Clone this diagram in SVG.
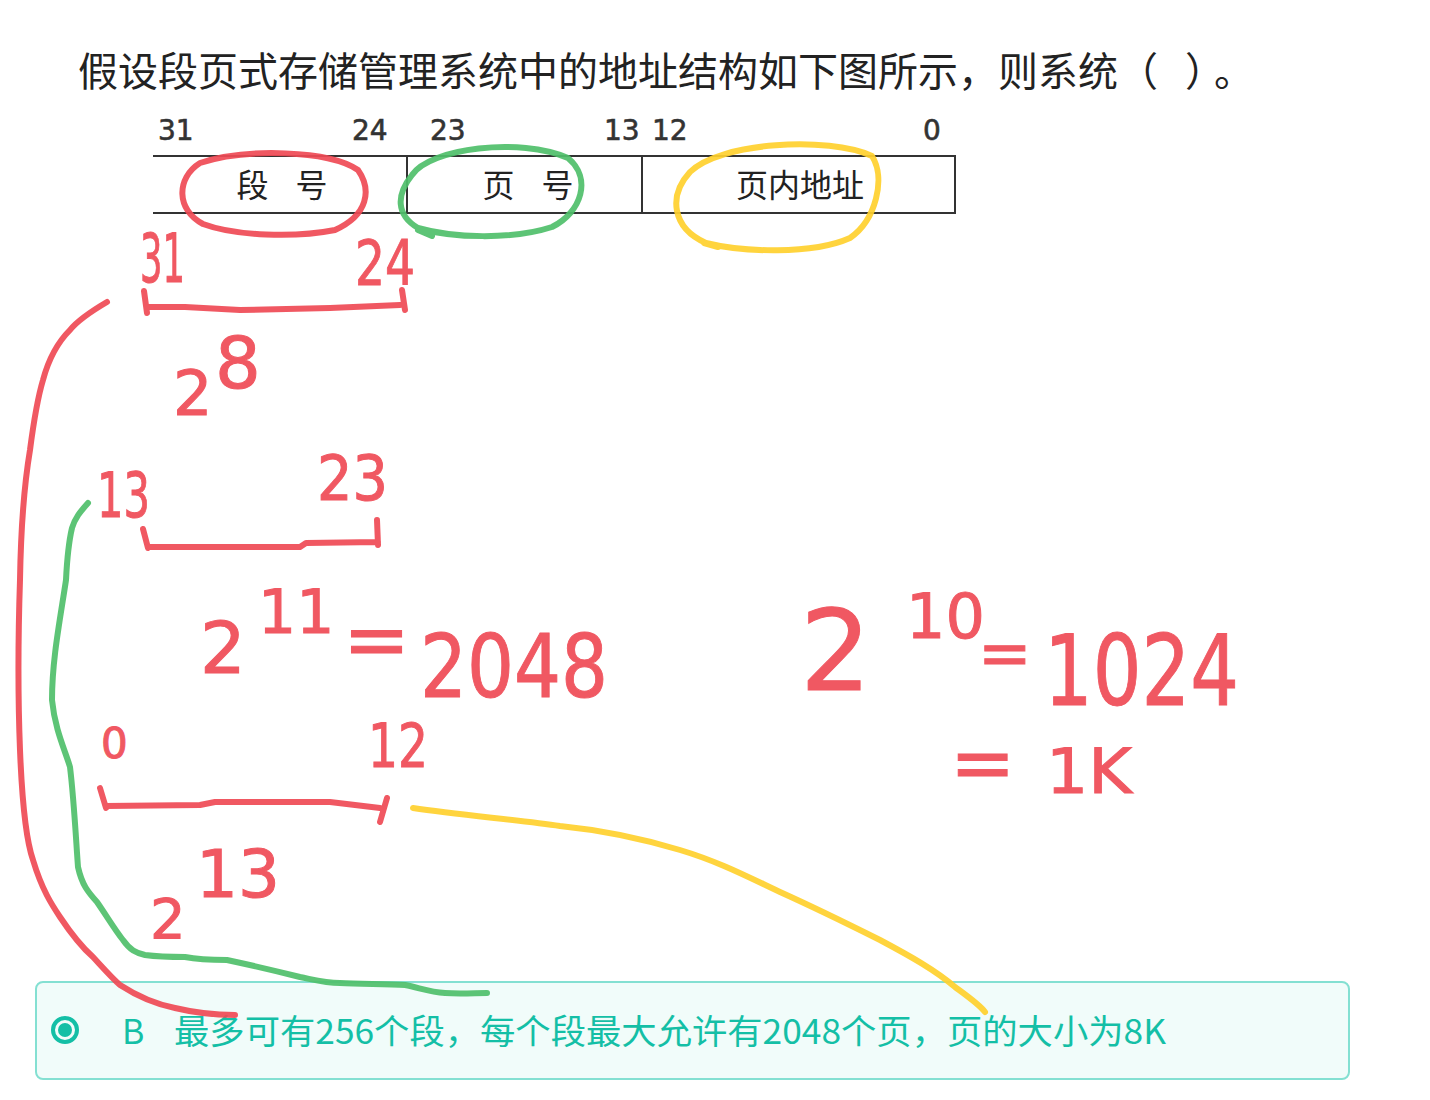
<svg xmlns="http://www.w3.org/2000/svg" width="1430" height="1100" viewBox="0 0 1430 1100">
<style>
.cjk{font-family:"Noto Sans CJK SC","Noto Sans",sans-serif;}
.bit{font-family:"DejaVu Sans",sans-serif;font-size:28px;fill:#333;stroke:#333;stroke-width:0.6;}
.cell{font-family:"Noto Sans CJK SC",sans-serif;font-size:32px;fill:#222;}
.ink{font-family:"DejaVu Sans",sans-serif;fill:#ef4a55;stroke:#ef4a55;stroke-width:1;opacity:0.92;}
.red{fill:none;stroke:#ef4a55;stroke-width:6;stroke-linecap:round;stroke-linejoin:round;opacity:0.92;}
.green{fill:none;stroke:#4fbf6a;stroke-width:6;stroke-linecap:round;stroke-linejoin:round;opacity:0.92;}
.yellow{fill:none;stroke:#ffd02e;stroke-width:6;stroke-linecap:round;stroke-linejoin:round;opacity:0.92;}
.ans{font-family:"Noto Sans CJK SC",sans-serif;font-size:34px;fill:#14bfa6;}
</style>
<rect width="1430" height="1100" fill="#ffffff"/>

<g id="question">
<text class="cjk" font-size="40" fill="#222"><tspan x="78" y="86">假设段页式存储管理系统中的地址结构如下图所示，则系统</tspan><tspan x="1118" y="86" textLength="136" lengthAdjust="spacing">（ ）。</tspan></text>
</g>

<g id="address-structure">
<text class="bit" x="158" y="140">31</text>
<text class="bit" x="352" y="140">24</text>
<text class="bit" x="430" y="140">23</text>
<text class="bit" x="604" y="140">13</text>
<text class="bit" x="652" y="140">12</text>
<text class="bit" x="923" y="140">0</text>
<g fill="none" stroke="#333" stroke-width="2">
<line x1="153" y1="156" x2="956" y2="156"/>
<line x1="153" y1="213" x2="956" y2="213"/>
<line x1="407" y1="156" x2="407" y2="213"/>
<line x1="642" y1="156" x2="642" y2="213"/>
<line x1="955" y1="156" x2="955" y2="213"/>
</g>
<text class="cell" x="282" y="197" text-anchor="middle" word-spacing="20">段 号</text>
<text class="cell" x="528" y="197" text-anchor="middle" word-spacing="20">页 号</text>
<text class="cell" x="800" y="197" text-anchor="middle">页内地址</text>
</g>

<g id="answer-b">
<rect x="36" y="982" width="1313" height="97" rx="7" ry="7" fill="#f1fcfa" stroke="#84e0d2" stroke-width="2"/>
<circle cx="65" cy="1030" r="12" fill="none" stroke="#14bfa6" stroke-width="4"/>
<circle cx="65" cy="1030" r="7" fill="#14bfa6"/>
<text class="ans" x="122" y="1044" font-family="Liberation Sans,sans-serif">B</text>
<text class="ans" x="174" y="1044" textLength="992" lengthAdjust="spacingAndGlyphs">最多可有256个段，每个段最大允许有2048个页，页的大小为8K</text>
</g>

<g id="circles">
<path class="red" d="M200,163 C245,148 330,150 358,170 C372,190 368,215 335,230 C295,238 235,236 203,224 C176,210 176,178 200,163 Z"/>
<path class="green" d="M412,175 C430,148 520,137 568,158 C592,178 582,212 552,227 C512,240 452,238 418,228 C396,215 396,195 412,175 Z M418,230 L432,236"/>
<path class="yellow" d="M690,172 C720,142 828,136 872,156 C886,178 876,220 850,238 C812,255 742,252 706,243 C672,228 668,196 690,172 Z M704,243 L718,247"/>
</g>

<g id="connectors">
<path class="red" d="M107,302 C90,312 78,320 70,330 C55,345 47,365 43,380 C37,400 33,427 30,450 C25,480 21,520 20,580 C18,640 18,700 20,750 C22,800 26,840 33,860 C42,890 52,905 60,917 C72,935 85,950 93,957 C105,970 112,978 120,985 C140,998 160,1005 175,1008 C200,1014 218,1015 235,1015"/>
<path class="green" d="M88,503 C80,512 75,518 72,528 C68,545 67,560 66,580 C60,620 52,660 52,700 C55,730 65,750 70,767 C74,800 76,840 78,867 C82,885 88,892 97,902 C108,918 115,930 123,940 C130,950 136,953 145,955 C160,957 170,957 185,957 C200,960 215,960 227,960 C255,966 280,972 300,977 C315,980 325,983 340,983 C360,984 385,984 405,985 C420,988 430,992 445,993 C460,994 475,993 487,993"/>
<path class="yellow" d="M413,808 C460,815 520,820 560,826 C600,830 640,838 680,850 C720,862 750,878 780,892 C820,910 850,925 880,940 C910,956 935,970 955,987 C970,998 980,1005 985,1012"/>
</g>

<g id="brackets">
<path class="red" d="M144,291 L147,313 M147,307 L185,307 L240,310 L330,308 L400,305 M402,290 L405,310"/>
<path class="red" d="M143,529 L148,548 M150,547 L300,547 L306,543 L378,542 M377,520 L378,545"/>
<path class="red" d="M100,788 L106,808 M106,806 L200,805 L215,802 L330,802 L380,808 M387,798 L380,822"/>
</g>

<g id="handwriting">
<text class="ink" x="140" y="282" font-size="68" textLength="45" lengthAdjust="spacingAndGlyphs">31</text>
<text class="ink" x="355" y="285" font-size="62" textLength="60" lengthAdjust="spacingAndGlyphs">24</text>
<text class="ink"><tspan x="173" y="415" font-size="62">2</tspan><tspan x="215" y="388" font-size="72">8</tspan></text>
<text class="ink" x="97" y="517" font-size="62" textLength="53" lengthAdjust="spacingAndGlyphs">13</text>
<text class="ink" x="317" y="500" font-size="62" textLength="71" lengthAdjust="spacingAndGlyphs">23</text>
<text class="ink"><tspan x="200" y="673" font-size="72">2</tspan><tspan x="258" y="633" font-size="60">11</tspan></text>
<text class="ink" x="343" y="667" font-size="80">=</text>
<text class="ink" x="420" y="697" font-size="88" textLength="188" lengthAdjust="spacingAndGlyphs">2048</text>
<text class="ink"><tspan x="800" y="690" font-size="112">2</tspan><tspan x="906" y="638" font-size="62">10</tspan></text>
<text class="ink" x="978" y="675" font-size="64">=</text>
<text class="ink" x="1044" y="705" font-size="98" textLength="195" lengthAdjust="spacingAndGlyphs">1024</text>
<text class="ink" x="950" y="790" font-size="78">=</text>
<text class="ink" x="1046" y="793" font-size="62" textLength="86" lengthAdjust="spacingAndGlyphs">1K</text>
<text class="ink" x="101" y="758" font-size="42">0</text>
<text class="ink" x="368" y="767" font-size="60" textLength="60" lengthAdjust="spacingAndGlyphs">12</text>
<text class="ink"><tspan x="150" y="938" font-size="56">2</tspan><tspan x="196" y="897" font-size="66">13</tspan></text>
</g>
</svg>
